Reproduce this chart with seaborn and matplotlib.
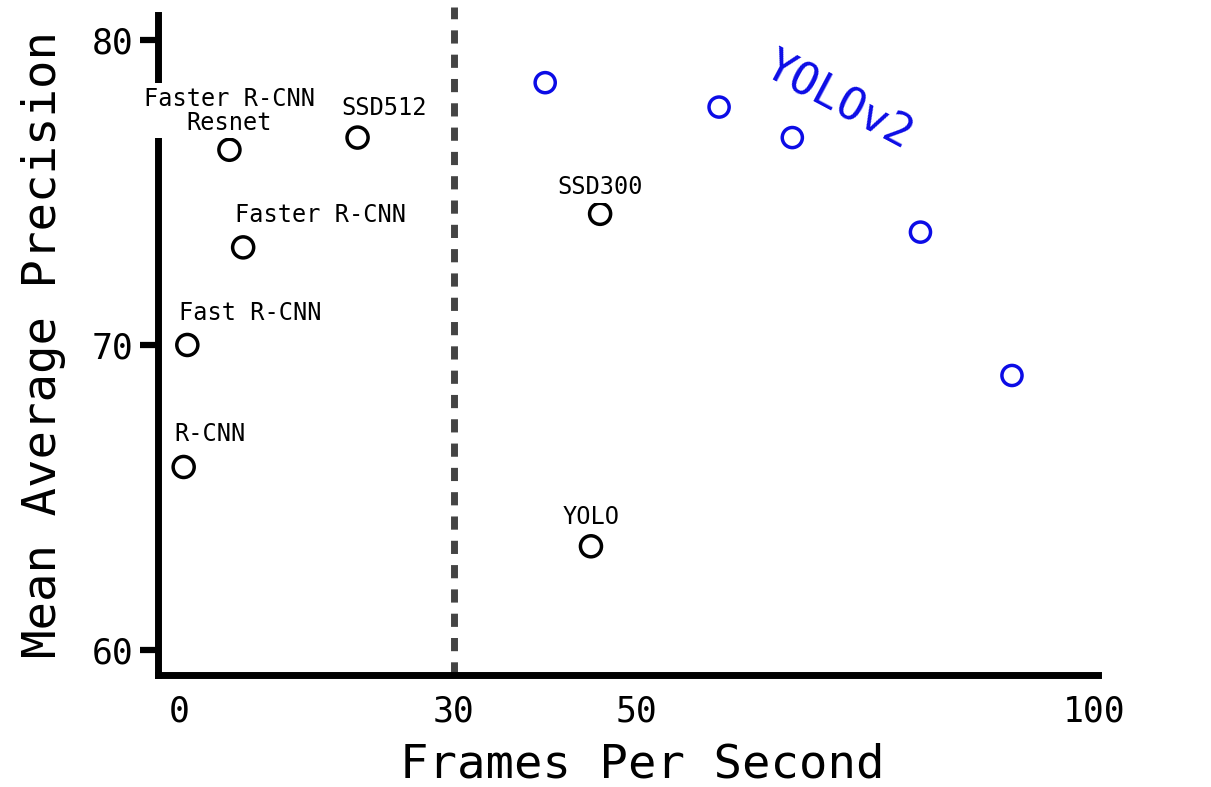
import matplotlib
matplotlib.use("Agg")
import matplotlib.pyplot as plt
import seaborn as sns
import pandas as pd

# ---- data ----
other_names = ["R-CNN", "Fast R-CNN", "Faster R-CNN", "Faster R-CNN\nResnet",
               "SSD512", "SSD300", "YOLO"]
other_fps = [0.5, 0.9, 7, 5.5, 19.5, 46, 45]
other_map = [66.0, 70.0, 73.2, 76.4, 76.8, 74.3, 63.4]

yolov2_fps = [40, 59, 67, 81, 91]
yolov2_map = [78.6, 77.8, 76.8, 73.7, 69.0]

x_ticks = [0, 30, 50, 100]
y_ticks = [60, 70, 80]
realtime_fps = 30

# label offsets (points) relative to each marker
label_offsets = {
    "R-CNN": (19, 24),
    "Fast R-CNN": (45, 23),
    "Faster R-CNN": (56, 23),
    "Faster R-CNN\nResnet": (0, 28),
    "SSD512": (19, 21),
    "SSD300": (0, 19),
    "YOLO": (0, 21),
}

df_other = pd.DataFrame({"fps": other_fps, "mAP": other_map, "name": other_names})
df_v2 = pd.DataFrame({"fps": yolov2_fps, "mAP": yolov2_map})

sns.set_style("white")
plt.rcParams["font.family"] = ["DejaVu Sans Mono", "DejaVu Sans"]
plt.rcParams["text.color"] = "black"
plt.rcParams["axes.labelcolor"] = "black"
plt.rcParams["xtick.color"] = "black"
plt.rcParams["ytick.color"] = "black"

fig = plt.figure(figsize=(12.11, 7.87), dpi=100)
ax = fig.add_axes([0.1305, 0.1423, 0.9067 - 0.1305, 0.981 - 0.1423])

BLUE = "#0c0ce6"
sns.scatterplot(data=df_other, x="fps", y="mAP", ax=ax, s=230,
                facecolor="none", edgecolor="black", linewidth=2.5,
                zorder=5, legend=False)
sns.scatterplot(data=df_v2, x="fps", y="mAP", ax=ax, s=210,
                facecolor="none", edgecolor=BLUE, linewidth=2.5,
                zorder=5, legend=False)

for name, fx, my in zip(other_names, other_fps, other_map):
    dx, dy = label_offsets[name]
    ax.annotate(name, (fx, my), xytext=(dx, dy), textcoords="offset points",
                ha="center", va="center", fontsize=17, linespacing=1.0,
                color="black", zorder=10, annotation_clip=False,
                bbox=dict(boxstyle="square,pad=0.15", fc="white", ec="none"))

ax.text(72.0, 78.0, "YOLOv2", color=BLUE, fontsize=32, rotation=-28,
        ha="center", va="center")

ax.axvline(realtime_fps, ymin=0, ymax=1.012, color="#444444", lw=5,
           dashes=(1.9, 1.6), clip_on=False, zorder=1)

ax.set_xlim(-2.3, 100.4)
ax.set_ylim(59.18, 80.82)
ax.set_xticks(x_ticks)
ax.set_xticklabels([str(t) for t in x_ticks])
ax.set_yticks(y_ticks)
ax.set_yticklabels([str(t) for t in y_ticks])

for s in ["top", "right"]:
    ax.spines[s].set_visible(False)
for s in ["left", "bottom"]:
    ax.spines[s].set_linewidth(5)
    ax.spines[s].set_color("black")
    ax.spines[s].set_zorder(2)

ax.tick_params(axis="x", length=0, pad=14, labelsize=25)
ax.tick_params(axis="y", length=13, width=4.5, pad=5, labelsize=25,
               left=True, direction="out", color="black")

ax.set_xlabel("Frames Per Second", fontsize=34)
ax.set_ylabel("Mean Average Precision", fontsize=34, labelpad=18)
ax.xaxis.set_label_coords(0.515, -0.103)

fig.savefig("out.png", dpi=100, facecolor="white")
